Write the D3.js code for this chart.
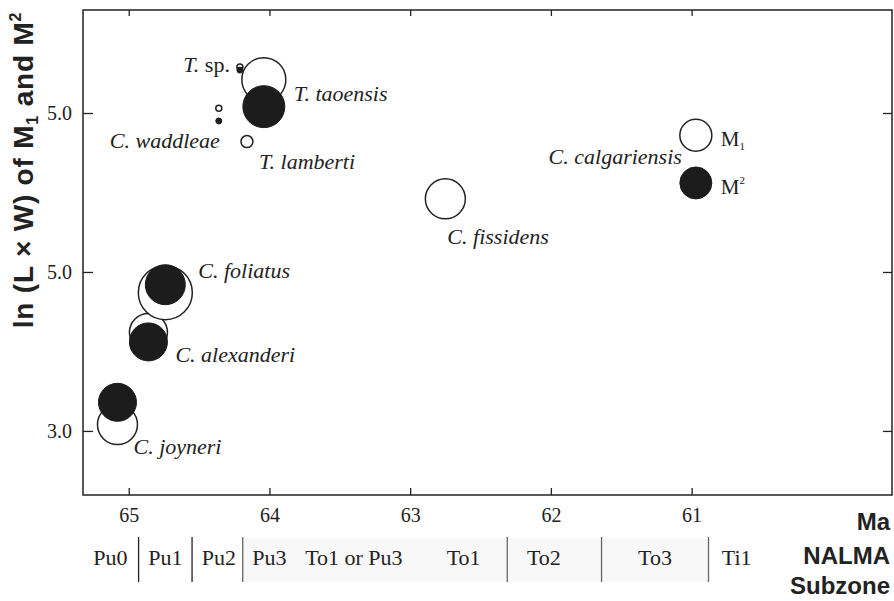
<!DOCTYPE html>
<html>
<head>
<meta charset="utf-8">
<script src="https://cdn.jsdelivr.net/npm/d3@7"></script>
<style>
  body { margin: 0; background: #fff; }
  svg { display: block; }
</style>
</head>
<body>
<svg id="chart" width="894" height="601"></svg>
<script>
// species and their values (age in Ma, ln(L x W)), M1 = open, M2 = filled
var species = ['C. joyneri', 'C. alexanderi', 'C. foliatus', 'T. sp.', 'C. waddleae',
               'T. lamberti', 'T. taoensis', 'C. fissidens', 'C. calgariensis'];
var ageMa   = [65.08, 64.86, 64.74, 64.21, 64.36, 64.16, 64.04, 62.75, 60.97];
var m1Value = [3.04, 3.62, 3.87, 5.29, 5.03, 4.82, 5.21, 4.46, 4.86];
var m2Value = [3.18, 3.56, 3.92, 5.27, 4.95, null, 5.04, null, 4.56];
// relative size of the bubbles
var m1Size  = [20, 19, 27, 3, 3, 6, 22, 20, 16];
var m2Size  = [19, 19, 20, 3, 3, null, 21, null, 16];

var xTicks = [65, 64, 63, 62, 61];
var yTicks = [3, 4, 5];
var yTickLabels = ['3.0', '5.0', '5.0'];

// NALMA subzones (centre in Ma) and the breaks between them
var subzones = ['Pu0', 'Pu1', 'Pu2', 'Pu3', 'To1 or Pu3', 'To1', 'To2', 'To3', 'Ti1'];
var subzoneAt = [65.13, 64.74, 64.36, 64.0, 63.40, 62.62, 62.05, 61.26, 60.68];
var subzoneBreaks = [64.93, 64.55, 64.19, 62.31, 61.64, 60.88];

var W = 894, H = 601;
var margin = {left: 83, right: 2, top: 10, bottom: 106};

var svg = d3.select('#chart');

var x = d3.scaleLinear().domain([65.325, 59.576]).range([margin.left, W - margin.right]);
var y = d3.scaleLinear().domain([2.597, 5.648]).range([H - margin.bottom, margin.top]);
var r = d3.scaleLinear().domain([0, 30]).range([0, 30]);

var serif = '"Liberation Serif", "Times New Roman", serif';
var sans = '"Liberation Sans", Arial, sans-serif';

// faint band under part of the subzone row
svg.append('rect')
  .attr('x', x(subzoneBreaks[2])).attr('y', 538)
  .attr('width', x(subzoneBreaks[5]) - x(subzoneBreaks[2])).attr('height', 44)
  .attr('fill', '#f8f8f8');

// axes
var gx = svg.append('g')
  .attr('transform', 'translate(0,' + y.range()[0] + ')')
  .call(d3.axisBottom(x).tickValues(xTicks).tickFormat(d3.format('d'))
    .tickSizeInner(-7).tickSizeOuter(0).tickPadding(13));
var gt = svg.append('g')
  .attr('transform', 'translate(0,' + y.range()[1] + ')')
  .call(d3.axisTop(x).tickValues(xTicks).tickFormat('')
    .tickSizeInner(-6).tickSizeOuter(0));
var gy = svg.append('g')
  .attr('transform', 'translate(' + x.range()[0] + ',0)')
  .call(d3.axisLeft(y).tickValues(yTicks)
    .tickFormat(function(d, i){ return yTickLabels[i]; })
    .tickSizeInner(-10).tickSizeOuter(0).tickPadding(11));
var gr = svg.append('g')
  .attr('transform', 'translate(' + x.range()[1] + ',0)')
  .call(d3.axisRight(y).tickValues(yTicks).tickFormat('')
    .tickSizeInner(-9).tickSizeOuter(0));

[gx, gt, gy, gr].forEach(function(g){
  g.select('.domain').remove();
  g.selectAll('.tick line').attr('stroke', '#222').attr('stroke-width', 1.3);
  g.selectAll('.tick text')
    .attr('font-family', serif).attr('font-size', 20).attr('fill', '#222');
});

// frame
svg.append('rect')
  .attr('x', x.range()[0]).attr('y', y.range()[1])
  .attr('width', x.range()[1] - x.range()[0])
  .attr('height', y.range()[0] - y.range()[1])
  .attr('fill', 'none').attr('stroke', '#222').attr('stroke-width', 1.5);

// bubbles: open M1 first, filled M2 on top
var pts = species.map(function(s, i){
  return {name: s, age: ageMa[i], m1: m1Value[i], m2: m2Value[i], s1: m1Size[i], s2: m2Size[i]};
});

svg.append('g').selectAll('circle')
  .data(pts)
  .join('circle')
  .attr('cx', function(d){ return x(d.age); })
  .attr('cy', function(d){ return y(d.m1); })
  .attr('r', function(d){ return r(d.s1); })
  .attr('fill', '#fff').attr('stroke', '#222').attr('stroke-width', 1.5);

svg.append('g').selectAll('circle')
  .data(pts.filter(function(d){ return d.m2 !== null; }))
  .join('circle')
  .attr('cx', function(d){ return x(d.age); })
  .attr('cy', function(d){ return y(d.m2); })
  .attr('r', function(d){ return r(d.s2); })
  .attr('fill', '#1c1c1c').attr('stroke', '#1c1c1c').attr('stroke-width', 1);

// species labels, offset in px from the M1 bubble
var labelPos = {
  'C. joyneri':      {dx: 16,  dy: 29,  anchor: 'start'},
  'C. alexanderi':   {dx: 27,  dy: 30,  anchor: 'start'},
  'C. foliatus':     {dx: 33,  dy: -15, anchor: 'start'},
  'T. sp.':          {dx: -10, dy: 5,   anchor: 'end'},
  'C. waddleae':     {dx: 1,   dy: 40,  anchor: 'end'},
  'T. lamberti':     {dx: 12,  dy: 27,  anchor: 'start'},
  'T. taoensis':     {dx: 30,  dy: 21,  anchor: 'start'},
  'C. fissidens':    {dx: 2,   dy: 45,  anchor: 'start'},
  'C. calgariensis': {dx: -14, dy: 29,  anchor: 'end'}
};

var labels = svg.append('g').selectAll('text')
  .data(pts)
  .join('text')
  .attr('x', function(d){ return x(d.age) + labelPos[d.name].dx; })
  .attr('y', function(d){ return y(d.m1) + labelPos[d.name].dy; })
  .attr('text-anchor', function(d){ return labelPos[d.name].anchor; })
  .attr('font-family', serif).attr('font-size', 22).attr('fill', '#222');

labels.each(function(d){
  var t = d3.select(this);
  var parts = d.name.split(' ');
  t.append('tspan').attr('font-style', 'italic').text(parts[0] + ' ');
  // "sp." stays upright
  t.append('tspan').attr('font-style', parts[1] === 'sp.' ? 'normal' : 'italic').text(parts[1]);
});

// M1 / M2 key next to C. calgariensis
var last = pts[pts.length - 1];
var key = svg.append('g').attr('font-family', serif).attr('font-size', 21).attr('fill', '#222');
var k1 = key.append('text').attr('x', x(last.age) + 25).attr('y', y(last.m1) + 11);
k1.append('tspan').text('M');
k1.append('tspan').attr('font-size', 11).attr('dy', 4).text('1');
var k2 = key.append('text').attr('x', x(last.age) + 25).attr('y', y(last.m2) + 11);
k2.append('tspan').text('M');
k2.append('tspan').attr('font-size', 11).attr('dy', -10).text('2');

// y title
var yt = svg.append('text')
  .attr('transform', 'translate(33,' + 170 + ') rotate(-90)')
  .attr('text-anchor', 'middle')
  .attr('font-family', sans).attr('font-weight', 'bold').attr('font-size', 28)
  .attr('letter-spacing', 0.8).attr('fill', '#222');
yt.append('tspan').text('ln (L \u00d7 W) of M');
yt.append('tspan').attr('font-size', 16).attr('dy', 5).text('1');
yt.append('tspan').attr('dy', -5).text(' and  M');
yt.append('tspan').attr('font-size', 16).attr('dy', -12).text('2');

// subzone row
svg.append('g').selectAll('line')
  .data(subzoneBreaks)
  .join('line')
  .attr('x1', function(d){ return x(d); }).attr('x2', function(d){ return x(d); })
  .attr('y1', 537).attr('y2', 582)
  .attr('stroke', function(d, i){ return i < 2 ? '#222' : '#666'; })
  .attr('stroke-width', 1.3);

svg.append('g').selectAll('text')
  .data(subzones)
  .join('text')
  .attr('x', function(d, i){ return x(subzoneAt[i]); })
  .attr('y', 565)
  .attr('text-anchor', 'middle')
  .attr('font-family', serif).attr('font-size', 22).attr('fill', '#222')
  .text(function(d){ return d; });

// right-hand captions
var caps = svg.append('g')
  .attr('font-family', sans).attr('font-weight', 'bold').attr('font-size', 24)
  .attr('fill', '#222').attr('text-anchor', 'end');
caps.append('text').attr('x', 890).attr('y', 530).text('Ma');
caps.append('text').attr('x', 890).attr('y', 564).text('NALMA');
caps.append('text').attr('x', 890).attr('y', 594).text('Subzone');
</script>
</body>
</html>
